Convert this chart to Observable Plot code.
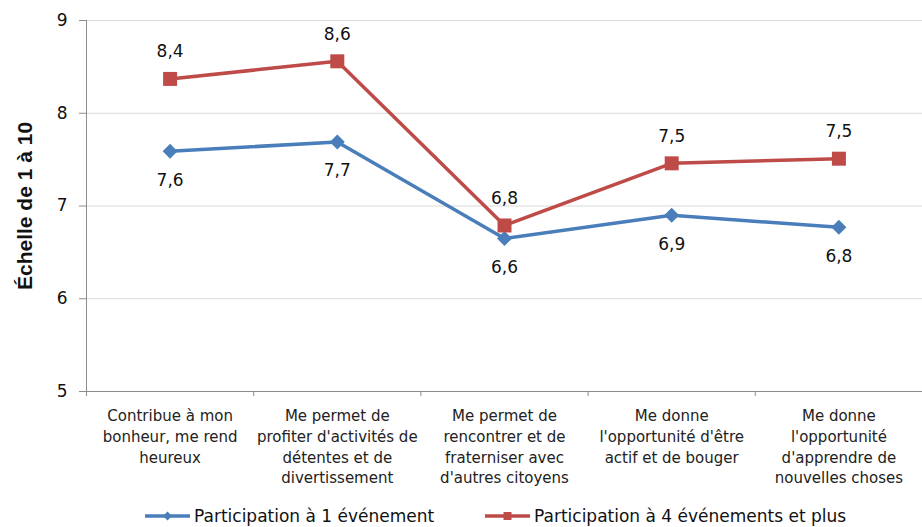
<!DOCTYPE html>
<html>
<head>
<meta charset="utf-8">
<script src="https://cdn.jsdelivr.net/npm/d3@7"></script>
<script src="https://cdn.jsdelivr.net/npm/@observablehq/plot@0.6"></script>
<style>
  html, body { margin: 0; padding: 0; background: #fff; }
  #chart { width: 922px; height: 527px; position: relative; font-family: "DejaVu Sans", sans-serif; }
  .legend { position: absolute; left: 0; top: 505px; height: 22px; width: 922px; font-size: 17px; color: #111; }
  .item { position: absolute; top: 0; display: flex; align-items: center; height: 22px; }
  .item svg { margin-right: 4px; }
</style>
</head>
<body>
<div id="chart"></div>
<script>
const categories = [
  "Contribue à mon\nbonheur, me rend\nheureux",
  "Me permet de\nprofiter d'activités de\ndétentes et de\ndivertissement",
  "Me permet de\nrencontrer et de\nfraterniser avec\nd'autres citoyens",
  "Me donne\nl'opportunité d'être\nactif et de bouger",
  "Me donne\nl'opportunité\nd'apprendre de\nnouvelles choses"
];
const seriesNames = ["Participation à 1 événement", "Participation à 4 événements et plus"];
const values1 = [7.59, 7.69, 6.65, 6.90, 6.77];
const values2 = [8.37, 8.56, 6.79, 7.46, 7.51];
const labels1 = ["7,6", "7,7", "6,6", "6,9", "6,8"];
const labels2 = ["8,4", "8,6", "6,8", "7,5", "7,5"];
const yTicks = [5, 6, 7, 8, 9];
const yTitle = "Échelle de 1 à 10";

const blue = "#4a7ebb";
const red = "#be4b48";

const data1 = categories.map((c, i) => ({pos: i + 0.5, cat: c, value: values1[i], label: labels1[i], series: seriesNames[0]}));
const data2 = categories.map((c, i) => ({pos: i + 0.5, cat: c, value: values2[i], label: labels2[i], series: seriesNames[1]}));
const boundaries = d3.range(categories.length + 1);

const chart = Plot.plot({
  width: 922,
  height: 505,
  marginLeft: 86,
  marginRight: 0,
  marginTop: 20,
  marginBottom: 114,
  style: {fontFamily: "DejaVu Sans, sans-serif", background: "white", color: "#111"},
  x: {type: "linear", domain: [0, categories.length]},
  y: {domain: [5, 9]},
  color: {domain: seriesNames, range: [blue, red]},
  marks: [
    Plot.gridY(yTicks.filter(t => t > 5), {stroke: "#d9d9d9", strokeOpacity: 1}),
    Plot.ruleX([0], {stroke: "#8c8c8c"}),
    Plot.ruleY([5], {stroke: "#8c8c8c"}),
    Plot.axisY({ticks: yTicks, tickSize: 7, tickPadding: 12, fontSize: 17, label: null, stroke: "#8c8c8c", fill: "#111", tickFormat: d => String(d)}),
    Plot.axisX({ticks: boundaries, tickSize: 5, tickFormat: () => "", label: null, stroke: "#8c8c8c"}),
    Plot.text(categories, {x: (d, i) => i + 0.5, frameAnchor: "bottom", text: d => d, lineAnchor: "top", dy: 15, fontSize: 15, lineHeight: 1.38, fill: "#222"}),
    Plot.line(data1.concat(data2), {x: "pos", y: "value", stroke: "series", z: "series", strokeWidth: 3.5}),
    Plot.dot(data1, {x: "pos", y: "value", symbol: "diamond2", r: 6.75, fill: blue, stroke: "none"}),
    Plot.dot(data2, {x: "pos", y: "value", symbol: "square", r: 7.9, fill: red, stroke: "none"}),
    Plot.text(data1, {x: "pos", y: "value", text: "label", dy: 29, fontSize: 17, fill: "#111"}),
    Plot.text(data2, {x: "pos", y: "value", text: "label", dy: -27, fontSize: 17, fill: "#111"}),
    Plot.text([yTitle], {frameAnchor: "left", textAnchor: "middle", text: d => d, rotate: -90, dx: -61, fontSize: 21, fontWeight: "bold", fontFamily: "Liberation Sans, Arial, sans-serif", fill: "#111"})
  ]
});

const root = document.getElementById("chart");
root.appendChild(chart);

const legend = document.createElement("div");
legend.className = "legend";
const swatch = (color, shape) => {
  const marker = shape === "diamond"
    ? `<path d="M22.5,1.5 L27,6 L22.5,10.5 L18,6 Z" fill="${color}"/>`
    : `<rect x="18.5" y="2" width="8" height="8" fill="${color}"/>`;
  return `<svg width="45" height="12"><line x1="0" y1="6" x2="45" y2="6" stroke="${color}" stroke-width="3.5"/>${marker}</svg>`;
};
legend.innerHTML =
  `<div class="item" style="left:145px">${swatch(blue, "diamond")}<span>${seriesNames[0]}</span></div>` +
  `<div class="item" style="left:485px">${swatch(red, "square")}<span>${seriesNames[1]}</span></div>`;
root.appendChild(legend);
</script>
</body>
</html>
